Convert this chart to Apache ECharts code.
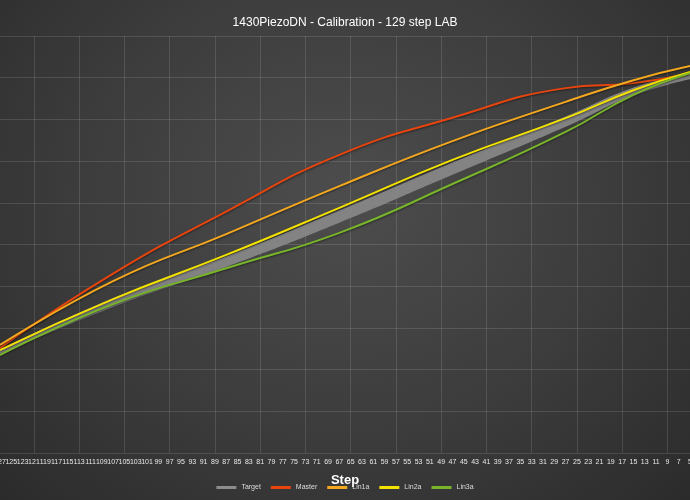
<!DOCTYPE html>
<html><head><meta charset="utf-8">
<script src="https://cdn.jsdelivr.net/npm/echarts@6/dist/echarts.min.js"></script>
<style>html,body{margin:0;padding:0;}
#c{width:690px;height:500px;background:radial-gradient(ellipse at 50% 40%,#4d4d4d 0%,#3c3c3c 55%,#2b2b2b 100%);}</style>
</head><body><div id="c"></div>
<script>
const steps = [];
for (let s = 127; s >= 5; s -= 2) steps.push(String(s));
const sampleSteps = ['127','107','87','67','47','27','15','5'];
const master = [25.2, 43.0, 57.9, 71.5, 80.4, 87.5, 88.7, 91.1];
const lin1a  = [25.9, 41.2, 52.5, 64.0, 74.8, 84.2, 89.4, 92.8];
const lin2a  = [24.7, 36.9, 47.5, 58.8, 70.3, 80.3, 87.0, 91.4];
const lin3a  = [23.5, 35.7, 44.3, 52.8, 64.5, 77.0, 85.9, 91.1];
const target = [24.2, 36.0, 45.8, 56.6, 68.1, 79.4, 86.6, 90.4];
const targetWidth = [1.0, 2.0, 2.4, 2.8, 2.8, 2.3, 1.8, 1.5];

const pairs = arr => sampleSteps.map((s, i) => [s, arr[i]]);
const tLow = target.map((v, i) => +(v - targetWidth[i] / 2).toFixed(2));

const chart = echarts.init(document.getElementById('c'));
const line = (name, arr, color) => ({
  name, type: 'line', smooth: true, showSymbol: false, data: pairs(arr),
  lineStyle: { color, width: 2, shadowColor: 'rgba(0,0,0,0.5)', shadowBlur: 2, shadowOffsetY: 1 },
  itemStyle: { color }, z: 3
});
chart.setOption({
  backgroundColor: 'transparent',
  animation: false,
  title: { text: '1430PiezoDN - Calibration - 129 step LAB', left: 'center', top: 12,
    textStyle: { color: '#fff', fontSize: 12, fontWeight: 'normal', fontFamily: 'Liberation Sans' } },
  legend: {
    bottom: 4, left: 'center', itemWidth: 20, itemHeight: 3, itemGap: 10,
    textStyle: { color: '#ddd', fontSize: 7, fontFamily: 'Liberation Sans' },
    data: [
      { name: 'Target', icon: 'rect', itemStyle: { color: '#8c8c8c' } },
      { name: 'Master', icon: 'rect' }, { name: 'Lin1a', icon: 'rect' },
      { name: 'Lin2a', icon: 'rect' }, { name: 'Lin3a', icon: 'rect' }
    ]
  },
  grid: { left: 0, right: 0, top: 36, bottom: 47, containLabel: false, outerBoundsMode: 'none' },
  xAxis: {
    type: 'category', data: steps, boundaryGap: false,
    name: 'Step', nameLocation: 'middle', nameGap: 21,
    nameTextStyle: { color: '#fff', fontSize: 13, fontWeight: 'bold', fontFamily: 'Liberation Sans' },
    axisLine: { show: false }, axisTick: { show: false },
    axisLabel: { interval: 0, color: '#e8e8e8', fontSize: 7, margin: 6, fontFamily: 'Liberation Sans' },
    splitLine: { show: true, interval: i => i % 4 === 3, lineStyle: { color: 'rgba(255,255,255,0.12)' } }
  },
  yAxis: {
    type: 'value', min: 0, max: 100, interval: 10,
    axisLabel: { show: false }, axisLine: { show: false }, axisTick: { show: false },
    splitLine: { lineStyle: { color: 'rgba(255,255,255,0.12)' } }
  },
  series: [
    { name: 'TargetLow', type: 'line', stack: 't', smooth: true, showSymbol: false,
      data: pairs(tLow), lineStyle: { opacity: 0 }, z: 1, silent: true },
    { name: 'Target', type: 'line', stack: 't', smooth: true, showSymbol: false,
      data: pairs(targetWidth), lineStyle: { color: '#8c8c8c', width: 1 },
      areaStyle: { color: '#8a8a8a', opacity: 0.9 }, itemStyle: { color: '#8c8c8c' }, z: 2 },
    line('Master', master, '#e8450e'),
    line('Lin1a', lin1a, '#f4a81f'),
    line('Lin2a', lin2a, '#f3e100'),
    line('Lin3a', lin3a, '#79b52a')
  ]
});
</script></body></html>
